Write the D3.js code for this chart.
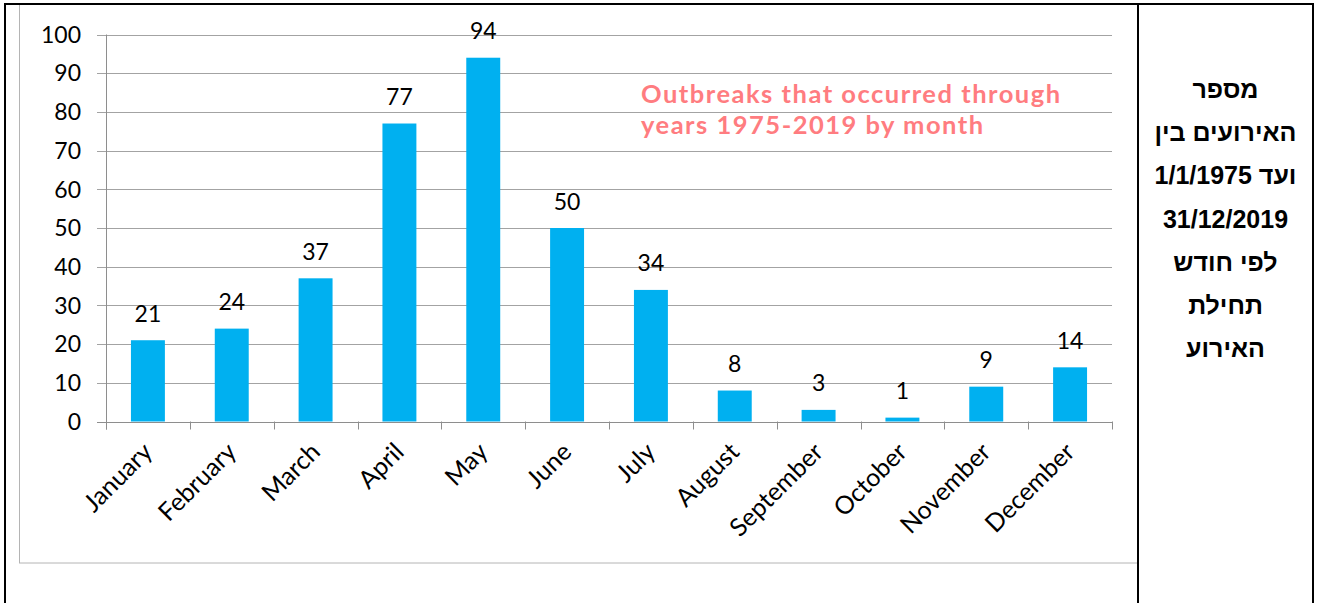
<!DOCTYPE html>
<html>
<head>
<meta charset="utf-8">
<script src="https://cdn.jsdelivr.net/npm/d3@7"></script>
<style>
  html, body { margin: 0; padding: 0; background: #fff; }
  svg { display: block; }
</style>
</head>
<body>
<svg id="chart" width="1319" height="603"></svg>
<script>
// Outbreaks per calendar month, 1975-2019
const months = ["January", "February", "March", "April", "May", "June",
                "July", "August", "September", "October", "November", "December"];
const counts = [21, 24, 37, 77, 94, 50, 34, 8, 3, 1, 9, 14];
const yTicks = [0, 10, 20, 30, 40, 50, 60, 70, 80, 90, 100];
const titleLines = ["Outbreaks that occurred through", "years 1975-2019 by month"];
// the leading LRM keeps the date line laid out left-to-right
const sideLines = ["מספר", "האירועים בין", "\u200E1/1/1975 ועד", "31/12/2019", "לפי חודש", "תחילת", "האירוע"];

const svg = d3.select("#chart");
const chartFont = "Lato, 'Open Sans', sans-serif";

// plot geometry
const plot = { left: 106, right: 1112, top: 34.5, bottom: 421.5 };

const x = d3.scaleBand()
  .domain(months)
  .range([plot.left, plot.right])
  .paddingInner(0.595)
  .paddingOuter(0.2975);

const y = d3.scaleLinear()
  .domain([0, 100])
  .range([plot.bottom, plot.top]);

// chart frame
svg.append("rect")
  .attr("x", 19.5).attr("y", 4.5)
  .attr("width", 1118).attr("height", 558.5)
  .attr("fill", "none").attr("stroke", "#b4b4b4").attr("stroke-width", 1);

// horizontal gridlines with short ticks left of the axis
svg.append("g")
  .selectAll("line")
  .data(yTicks.filter(d => d > 0))
  .join("line")
  .attr("x1", plot.left - 9).attr("x2", plot.right)
  .attr("y1", d => Math.round(y(d)) + 0.5).attr("y2", d => Math.round(y(d)) + 0.5)
  .attr("stroke", "#a3a3a3").attr("stroke-width", 1);

// y tick labels
svg.append("g")
  .selectAll("text")
  .data(yTicks)
  .join("text")
  .attr("x", 81).attr("y", d => y(d))
  .attr("dy", "0.36em")
  .attr("text-anchor", "end")
  .attr("font-family", chartFont).attr("font-size", 23).attr("fill", "#000")
  .text(d => d);

// bars
svg.append("g")
  .selectAll("rect")
  .data(counts)
  .join("rect")
  .attr("x", (d, i) => x(months[i]))
  .attr("width", x.bandwidth())
  .attr("y", d => y(d))
  .attr("height", d => y(0) - y(d))
  .attr("fill", "#00b0f0");

// value labels
svg.append("g")
  .selectAll("text")
  .data(counts)
  .join("text")
  .attr("x", (d, i) => x(months[i]) + x.bandwidth() / 2)
  .attr("y", d => y(d) - 18.5)
  .attr("text-anchor", "middle")
  .attr("font-family", chartFont).attr("font-size", 23).attr("fill", "#000")
  .text(d => d);

// axes
const axisColor = "#8e8e8e";
svg.append("line")
  .attr("x1", plot.left - 9).attr("x2", plot.right)
  .attr("y1", Math.round(y(0)) + 0.5).attr("y2", Math.round(y(0)) + 0.5)
  .attr("stroke", axisColor);
svg.append("line")
  .attr("x1", plot.left + 0.5).attr("x2", plot.left + 0.5)
  .attr("y1", plot.top).attr("y2", y(0) + 8)
  .attr("stroke", axisColor);

// category boundary ticks
const step = x.step();
svg.append("g")
  .selectAll("line")
  .data(d3.range(months.length + 1))
  .join("line")
  .attr("x1", i => Math.round(plot.left + i * step) + 0.5)
  .attr("x2", i => Math.round(plot.left + i * step) + 0.5)
  .attr("y1", y(0)).attr("y2", y(0) + 8)
  .attr("stroke", axisColor);

// rotated month labels
svg.append("g")
  .selectAll("text")
  .data(months)
  .join("text")
  .attr("transform", d => `translate(${x(d) + x.bandwidth() / 2 + 6},${y(0) + 32}) rotate(-45)`)
  .attr("text-anchor", "end")
  .attr("font-family", chartFont).attr("font-size", 25).attr("fill", "#000")
  .text(d => d);

// chart title
svg.append("g")
  .selectAll("text")
  .data(titleLines)
  .join("text")
  .attr("x", 641).attr("y", (d, i) => 102.5 + i * 31)
  .attr("font-family", chartFont).attr("font-weight", 700)
  .attr("font-size", 25.5).attr("letter-spacing", 1.5).attr("fill", "#ff7c80")
  .text(d => d);

// table rules around the chart and the side caption
const rules = [
  [5, 4, 1313, 4],
  [5, 4, 5, 603],
  [1138, 4, 1138, 603],
  [1313, 4, 1313, 603]
];
svg.append("g")
  .selectAll("line")
  .data(rules)
  .join("line")
  .attr("x1", d => d[0]).attr("y1", d => d[1])
  .attr("x2", d => d[2]).attr("y2", d => d[3])
  .attr("stroke", "#000").attr("stroke-width", 2).attr("stroke-linecap", "square");

// side caption (Hebrew)
svg.append("g")
  .selectAll("text")
  .data(sideLines)
  .join("text")
  .attr("x", 1225.5).attr("y", (d, i) => 98 + i * 43.2)
  .attr("text-anchor", "middle")
  .attr("direction", "ltr")
  .attr("font-family", "'Liberation Sans', Arial, 'DejaVu Sans', sans-serif")
  .attr("font-weight", 700).attr("font-size", 25).attr("fill", "#000")
  .text(d => d);
</script>
</body>
</html>
